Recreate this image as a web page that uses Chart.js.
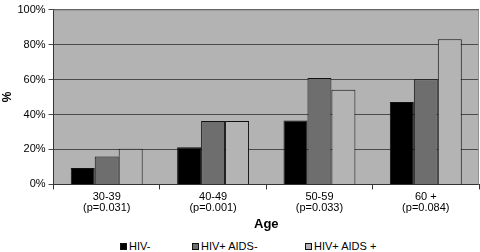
<!DOCTYPE html>
<html>
<head>
<meta charset="utf-8">
<script src="https://cdn.jsdelivr.net/npm/chart.js@4/dist/chart.umd.min.js"></script>
<style>
  html, body { margin: 0; padding: 0; background: #fff; }
  #wrap { position: relative; width: 480px; height: 252px; }
  #chartBox { position: absolute; left: 0; top: 0; width: 480px; height: 232px; }
  #legend { position: absolute; left: 0; top: 240px; width: 480px; height: 12px;
            font: 11px Arial, "Liberation Sans", sans-serif; color: #000; line-height: 13px; }
  #legend span.item { position: absolute; top: 0; white-space: nowrap; }
  #legend span.box { display: inline-block; width: 7px; height: 7px; border: 1px solid #111;
                     margin-right: 2px; vertical-align: 0px; box-sizing: border-box; }
</style>
</head>
<body>
<div id="wrap">
  <div id="chartBox"><canvas id="plot"></canvas></div>
  <div id="legend"></div>
</div>
<script>
// Age groups with p-values (two line labels)
const ageGroups = [
    ["30-39", "(p=0.031)"],
    ["40-49", "(p=0.001)"],
    ["50-59", "(p=0.033)"],
    ["60 +", "(p=0.084)"]
];
const seriesNames = ["HIV-", "HIV+ AIDS-", "HIV+ AIDS +"];
const hivNeg = [9.4, 21.3, 36.5, 47.2];
const hivPosAidsNeg = [15.9, 36.3, 60.9, 60.2];
const hivPosAidsPos = [20.4, 36.3, 54.1, 83.1];
const yTicks = [0, 20, 40, 60, 80, 100];
const seriesColors = ['#000000', '#6e6e6e', '#b4b4b4'];

// fond gris de la zone du graphique
const plotBackground = {
    id: 'plotBackground',
    beforeDraw(chart) {
        const { ctx, chartArea: a } = chart;
        ctx.save();
        ctx.fillStyle = '#b3b3b3';
        ctx.fillRect(a.left, a.top, a.right - a.left, a.bottom - a.top);
        ctx.restore();
    },
    afterDatasetsDraw(chart) {
        const { ctx, chartArea: a } = chart;
        ctx.save();
        ctx.strokeStyle = '#8f8f8f';
        ctx.lineWidth = 1;
        ctx.beginPath();
        ctx.moveTo(a.left, a.top + 0.5);
        ctx.lineTo(a.right - 0.5, a.top + 0.5);
        ctx.lineTo(a.right - 0.5, a.bottom);
        ctx.stroke();
        ctx.restore();
    }
};

const font = { family: 'Arial, "Liberation Sans", sans-serif', size: 11 };

const chart = new Chart(document.getElementById('plot'), {
    type: 'bar',
    data: {
        labels: ageGroups,
        datasets: seriesNames.map((name, i) => ({
            label: name,
            data: [hivNeg, hivPosAidsNeg, hivPosAidsPos][i],
            backgroundColor: seriesColors[i],
            borderColor: '#111111',
            borderWidth: 1,
            barPercentage: 1,
            categoryPercentage: 0.676
        }))
    },
    options: {
        responsive: true,
        maintainAspectRatio: false,
        animation: false,
        layout: { padding: { top: 4, right: 1, left: 0, bottom: 0 } },
        plugins: {
            legend: { display: false },
            tooltip: { enabled: false }
        },
        scales: {
            x: {
                grid: { drawOnChartArea: false, drawTicks: true, tickLength: 5, color: '#333', offset: true },
                border: { color: '#333' },
                ticks: { color: '#000', font: { family: font.family, size: 11, lineHeight: 1.0 }, padding: 2 },
                title: { display: true, text: 'Age', color: '#000', font: { family: font.family, size: 13, weight: 'bold' }, padding: { top: 1, bottom: 0 } }
            },
            y: {
                min: 0,
                max: 100,
                afterBuildTicks(axis) { axis.ticks = yTicks.map(v => ({ value: v })); },
                grid: { color: '#4a4a4a', tickLength: 5, drawTicks: true },
                border: { color: '#333' },
                ticks: { color: '#000', font: font, padding: 3, callback: v => v + '%' },
                title: { display: true, text: '%', color: '#000', font: { family: font.family, size: 12, weight: 'bold' }, padding: 0 }
            }
        }
    },
    plugins: [plotBackground]
});

// Legenda em HTML, com o mesmo espaçamento do original
const legendX = [120, 192, 305];
const legendEl = document.getElementById('legend');
seriesNames.forEach((name, i) => {
    const item = document.createElement('span');
    item.className = 'item';
    item.style.left = legendX[i] + 'px';
    const box = document.createElement('span');
    box.className = 'box';
    box.style.background = seriesColors[i];
    item.appendChild(box);
    item.appendChild(document.createTextNode(name));
    legendEl.appendChild(item);
});
</script>
</body>
</html>
